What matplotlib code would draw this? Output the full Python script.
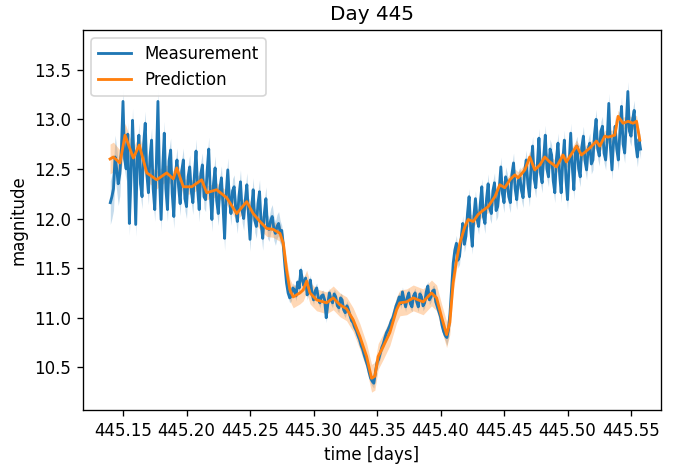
import numpy as np
import matplotlib
matplotlib.use("Agg")
import matplotlib.pyplot as plt


# =========================
# Data
# =========================
meas_start, meas_end = 445.140, 445.5575
meas_v = [
    12.16, 12.22, 12.30, 12.62, 12.50, 12.35, 12.45, 12.70, 13.18, 12.60,
    12.50, 12.85, 11.95, 12.40, 12.99, 12.55, 11.94, 12.60, 12.84, 12.35,
    12.22, 12.75, 12.96, 12.45, 12.26, 12.62, 12.79, 12.30, 12.09, 12.55,
    13.18, 12.40, 11.99, 12.50, 12.86, 12.30, 12.09, 12.58, 12.69, 12.25,
    12.02, 12.45, 12.59, 12.32, 12.15, 12.48, 12.59, 12.20, 12.12, 12.42,
    12.52, 12.28, 12.16, 12.44, 12.68, 12.30, 12.09, 12.45, 12.54, 12.22,
    12.19, 12.48, 12.70, 12.25, 11.99, 12.35, 12.51, 12.18, 12.05, 12.30,
    12.41, 12.12, 11.80, 12.25, 12.49, 12.20, 12.05, 12.28, 12.32, 12.10,
    11.97, 12.22, 12.37, 12.08, 12.00, 12.18, 12.34, 12.05, 11.79, 12.10,
    12.29, 11.98, 11.92, 12.15, 12.27, 11.95, 11.80, 12.05, 12.20, 11.92,
    11.89, 11.98, 12.02, 11.90, 11.85, 11.92, 11.95, 11.86, 11.88, 11.72,
    11.52, 11.35, 11.25, 11.20, 11.22, 11.30, 11.28, 11.22, 11.36, 11.30,
    11.48, 11.38, 11.32, 11.40, 11.23, 11.30, 11.38, 11.25, 11.18, 11.27,
    11.30, 11.20, 11.15, 11.22, 11.23, 11.18, 11.00, 11.14, 11.25, 11.18,
    11.15, 11.24, 11.21, 11.12, 11.10, 11.20, 11.18, 11.08, 11.05, 11.12,
    11.08, 11.02, 10.97, 10.95, 10.90, 10.87, 10.82, 10.78, 10.72, 10.68,
    10.62, 10.57, 10.52, 10.45, 10.39, 10.36, 10.34, 10.45, 10.55, 10.58,
    10.64, 10.70, 10.74, 10.80, 10.85, 10.88, 10.92, 10.97, 11.00, 11.06,
    11.12, 11.16, 11.21, 11.14, 11.26, 11.18, 11.11, 11.20, 11.25, 11.14,
    11.11, 11.22, 11.25, 11.16, 11.11, 11.24, 11.21, 11.12, 11.15, 11.26,
    11.32, 11.18, 11.21, 11.27, 11.28, 11.16, 11.11, 11.06, 11.01, 10.92,
    10.86, 10.82, 10.80, 10.88, 11.05, 11.30, 11.55, 11.68, 11.75, 11.58,
    11.62, 11.80, 11.95, 11.74, 11.82, 12.05, 12.22, 11.90, 11.72, 12.02,
    12.20, 12.00, 11.92, 12.14, 12.32, 12.02, 11.95, 12.20, 12.35, 12.10,
    12.05, 12.28, 12.36, 12.08, 12.12, 12.30, 12.52, 12.25, 12.16, 12.42,
    12.36, 12.22, 12.16, 12.45, 12.56, 12.30, 12.19, 12.38, 12.42, 12.28,
    12.21, 12.48, 12.59, 12.35, 12.22, 12.52, 12.73, 12.40, 12.31, 12.55,
    12.81, 12.45, 12.36, 12.62, 12.84, 12.50, 12.42, 12.70, 12.64, 12.38,
    12.26, 12.60, 12.76, 12.45, 12.26, 12.58, 12.79, 12.40, 12.19, 12.55,
    12.86, 12.52, 12.29, 12.68, 12.73, 12.50, 12.42, 12.72, 12.83, 12.58,
    12.49, 12.70, 12.76, 12.55, 12.59, 12.85, 13.00, 12.70, 12.63, 12.88,
    12.93, 12.66, 12.59, 12.80, 13.16, 12.72, 12.49, 12.78, 12.93, 12.70,
    12.59, 12.88, 13.13, 12.75, 12.66, 12.95, 13.28, 12.88, 12.83, 13.00,
    13.09, 12.75, 12.62, 12.80, 12.70,
]
meas_err_levels = [0.22, 0.12, 0.05, 0.08, 0.10]
meas_err_counts = [7, 101, 104, 24, 99]

pred_t = [
    445.1398, 445.1424, 445.1476, 445.1516, 445.1581, 445.1628, 445.1687, 445.1765,
    445.1844, 445.1896, 445.1923, 445.1975, 445.2041, 445.2119, 445.2159, 445.2237,
    445.2316, 445.2395, 445.2474, 445.2525, 445.2578, 445.2631, 445.2683, 445.2736,
    445.2762, 445.2788, 445.2814, 445.2840, 445.2893, 445.2919, 445.2946, 445.2972,
    445.3024, 445.3103, 445.3155, 445.3208, 445.3260, 445.3312, 445.3365, 445.3418,
    445.3457, 445.3483, 445.3509, 445.3549, 445.3601, 445.3654, 445.3680, 445.3733,
    445.3785, 445.3863, 445.3929, 445.3969, 445.4008, 445.4048, 445.4073, 445.4099,
    445.4126, 445.4152, 445.4192, 445.4218, 445.4257, 445.4296, 445.4323, 445.4375,
    445.4428, 445.4467, 445.4506, 445.4546, 445.4585, 445.4611, 445.4664, 445.4703,
    445.4742, 445.4782, 445.4821, 445.4860, 445.4913, 445.4965, 445.4991, 445.5071,
    445.5110, 445.5175, 445.5228, 445.5254, 445.5293, 445.5319, 445.5372, 445.5398,
    445.5437, 445.5477, 445.5516, 445.5543, 445.5569,
]
pred_v = [
    12.60, 12.62, 12.56, 12.84, 12.61, 12.74, 12.46, 12.39,
    12.46, 12.40, 12.51, 12.32, 12.32, 12.39, 12.26, 12.29,
    12.21, 12.05, 12.17, 12.05, 11.97, 11.90, 11.89, 11.85,
    11.75, 11.48, 11.28, 11.21, 11.25, 11.28, 11.37, 11.25,
    11.18, 11.15, 11.20, 11.13, 11.09, 10.98, 10.81, 10.61,
    10.39, 10.41, 10.61, 10.71, 10.85, 11.08, 11.15, 11.16,
    11.20, 11.16, 11.25, 11.20, 11.01, 10.83, 10.95, 11.35,
    11.58, 11.75, 11.92, 11.99, 11.97, 12.04, 12.07, 12.12,
    12.22, 12.34, 12.31, 12.39, 12.44, 12.41, 12.49, 12.62,
    12.49, 12.54, 12.62, 12.57, 12.52, 12.64, 12.57, 12.73,
    12.64, 12.71, 12.78, 12.73, 12.83, 12.82, 12.84, 13.03,
    12.96, 12.98, 12.96, 12.98, 12.79,
]
pred_std = [
    0.15, 0.15, 0.13, 0.12, 0.11, 0.10, 0.09, 0.09,
    0.08, 0.08, 0.08, 0.08, 0.07, 0.07, 0.07, 0.07,
    0.07, 0.07, 0.07, 0.07, 0.08, 0.08, 0.08, 0.08,
    0.09, 0.10, 0.11, 0.11, 0.11, 0.11, 0.11, 0.11,
    0.11, 0.11, 0.12, 0.12, 0.12, 0.12, 0.13, 0.13,
    0.14, 0.14, 0.13, 0.13, 0.13, 0.13, 0.13, 0.13,
    0.13, 0.13, 0.13, 0.13, 0.13, 0.13, 0.12, 0.10,
    0.09, 0.08, 0.07, 0.07, 0.06, 0.06, 0.06, 0.06,
    0.06, 0.06, 0.06, 0.06, 0.06, 0.06, 0.06, 0.06,
    0.06, 0.06, 0.06, 0.06, 0.06, 0.06, 0.06, 0.06,
    0.06, 0.06, 0.06, 0.06, 0.06, 0.06, 0.06, 0.06,
    0.06, 0.06, 0.06, 0.06, 0.06,
]

x_ticks = [445.15, 445.20, 445.25, 445.30, 445.35, 445.40, 445.45, 445.50, 445.55]
y_ticks = [10.5, 11.0, 11.5, 12.0, 12.5, 13.0, 13.5]


# =========================
# Plot
# =========================
meas_t = np.linspace(meas_start, meas_end, len(meas_v))
meas_v = np.array(meas_v)
meas_err = np.repeat(meas_err_levels, meas_err_counts)
pred_t = np.array(pred_t)
pred_v = np.array(pred_v)
pred_std = np.array(pred_std)

dpi = 120
fig = plt.figure(figsize=(676 / dpi, 468 / dpi), dpi=dpi)
ax = fig.add_axes([83 / 676, 58 / 468, 578 / 676, 380 / 468])

ax.fill_between(meas_t, meas_v - meas_err, meas_v + meas_err,
                color="C0", alpha=0.25, linewidth=0)
ax.fill_between(pred_t, pred_v - pred_std, pred_v + pred_std,
                color="C1", alpha=0.3, linewidth=0)
ax.plot(meas_t, meas_v, color="C0", linewidth=1.7, label="Measurement")
ax.plot(pred_t, pred_v, color="C1", linewidth=1.7, label="Prediction")

ax.set_xlim(445.1185, 445.5736)
ax.set_ylim(10.07, 13.90)
ax.set_xticks(x_ticks)
ax.set_xticklabels([f"{t:.2f}" for t in x_ticks])
ax.set_yticks(y_ticks)
ax.set_xlabel("time [days]")
ax.set_ylabel("magnitude")
ax.set_title("Day 445")
ax.legend(loc="upper left")

fig.savefig("out.png", dpi=dpi)
